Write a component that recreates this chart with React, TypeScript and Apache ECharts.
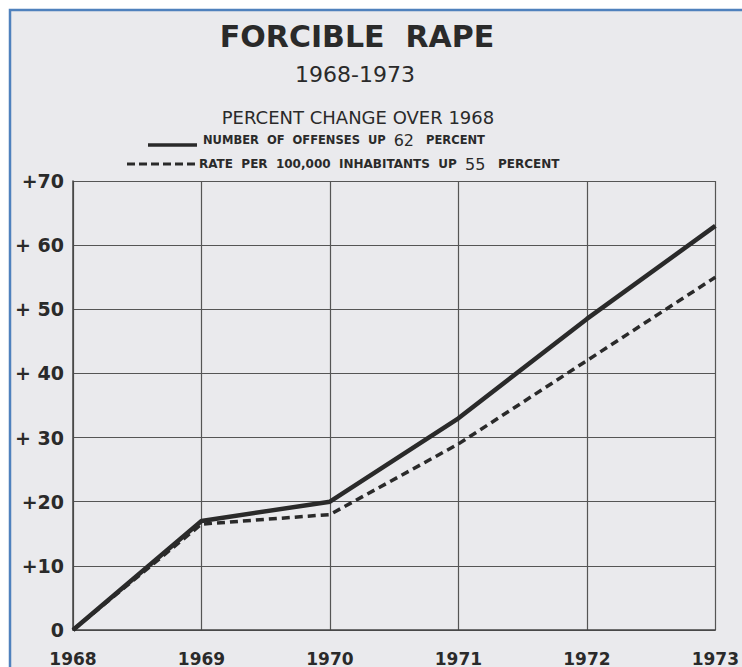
import React, { useEffect, useRef } from "react";
import * as echarts from "echarts";

const years = [1968, 1969, 1970, 1971, 1972, 1973];
const offenses = [0, 17, 20, 33, 48.5, 63];
const ratePer100k = [0, 16.5, 18, 29, 42, 55];
const yTickLabels: Record<number, string> = {
  0: "0", 10: "+10", 20: "+20", 30: "+ 30", 40: "+ 40", 50: "+ 50", 60: "+ 60", 70: "+70",
};

const FONT = "'DejaVu Sans', 'Open Sans', sans-serif";
const INK = "#2a2a2a";

export default function App() {
  const ref = useRef<HTMLDivElement>(null);
  useEffect(() => {
    const chart = echarts.init(ref.current!, null, { renderer: "svg" });
    chart.setOption({
      animation: false,
      backgroundColor: "#ffffff",
      graphic: [
        {
          type: "rect",
          z: -10,
          shape: { x: 10, y: 10, width: 800, height: 800 },
          style: { fill: "#eaeaed", stroke: "#4f81bd", lineWidth: 2.5 },
          silent: true,
        },
        {
          type: "text",
          x: 357,
          y: 36,
          style: { text: "FORCIBLE  RAPE", font: `bold 30px ${FONT}`, fill: INK, align: "center", verticalAlign: "middle" },
        },
        {
          type: "text",
          x: 355,
          y: 74,
          style: { text: "1968-1973", font: `22px ${FONT}`, fill: INK, align: "center", verticalAlign: "middle" },
        },
        {
          type: "text",
          x: 358,
          y: 117,
          style: { text: "PERCENT CHANGE OVER 1968", font: `18px ${FONT}`, fill: INK, align: "center", verticalAlign: "middle" },
        },
        {
          type: "line",
          shape: { x1: 148, y1: 145, x2: 197, y2: 145 },
          style: { stroke: INK, lineWidth: 3.5 },
        },
        {
          type: "line",
          shape: { x1: 127, y1: 164, x2: 199, y2: 164 },
          style: { stroke: INK, lineWidth: 3, lineDash: [8, 4] },
        },
        {
          type: "text",
          x: 203,
          y: 140,
          style: {
            text: "{a|NUMBER  OF  OFFENSES  UP  }{b|62}{a|   PERCENT}",
            verticalAlign: "middle",
            fill: INK,
            rich: {
              a: { font: `bold 11.5px ${FONT}`, fill: INK },
              b: { font: `16px ${FONT}`, fill: INK },
            },
          },
        },
        {
          type: "text",
          x: 199,
          y: 164,
          style: {
            text: "{a|RATE  PER  100,000  INHABITANTS  UP  }{b|55}{a|   PERCENT}",
            verticalAlign: "middle",
            fill: INK,
            rich: {
              a: { font: `bold 12px ${FONT}`, fill: INK },
              b: { font: `16px ${FONT}`, fill: INK },
            },
          },
        },
      ],
      grid: { left: 73, right: 26, top: 181, bottom: 37, containLabel: false },
      xAxis: {
        type: "value",
        min: 1968,
        max: 1973,
        interval: 1,
        axisLine: { show: true, lineStyle: { color: "#444", width: 1.5 } },
        axisTick: { show: false },
        splitLine: { show: true, lineStyle: { color: "#555", width: 1.2 } },
        axisLabel: {
          formatter: (v: number) => String(v),
          color: INK,
          fontFamily: FONT,
          fontWeight: "bold",
          fontSize: 17,
          margin: 20,
        },
      },
      yAxis: {
        type: "value",
        min: 0,
        max: 70,
        interval: 10,
        axisLine: { show: true, lineStyle: { color: "#444", width: 1.5 } },
        axisTick: { show: false },
        splitLine: { show: true, lineStyle: { color: "#555", width: 1.2 } },
        axisLabel: {
          formatter: (v: number) => yTickLabels[v] ?? String(v),
          color: INK,
          fontFamily: FONT,
          fontWeight: "bold",
          fontSize: 19,
          margin: 9,
        },
      },
      series: [
        {
          type: "line",
          name: "Rate per 100,000 inhabitants",
          data: years.map((y, i) => [y, ratePer100k[i]]),
          symbol: "none",
          z: 3,
          lineStyle: { color: INK, width: 3.5, type: [8, 5] },
        },
        {
          type: "line",
          name: "Number of offenses",
          data: years.map((y, i) => [y, offenses[i]]),
          symbol: "none",
          z: 4,
          lineStyle: { color: INK, width: 4.5, type: "solid" },
        },
      ],
    });
    return () => chart.dispose();
  }, []);
  return (
    <div
      ref={ref}
      style={{ position: "fixed", left: 0, top: 0, width: 742, height: 667 }}
    />
  );
}
